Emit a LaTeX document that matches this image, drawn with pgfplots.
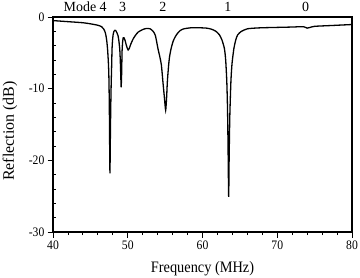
\documentclass[border=0pt]{standalone}
\usepackage{fontspec}
\setmainfont{Liberation Serif}
\usepackage{pgfplots}
\pgfplotsset{compat=1.18}
\begin{document}
\begin{tikzpicture}
\begin{axis}[
  scale only axis,
  width=299bp, height=215bp,
  xmin=40, xmax=80, ymin=-30, ymax=0,
  xtick={40,50,60,70,80}, ytick={-30,-20,-10,0},
  minor x tick num=4, minor y tick num=4,
  xtick pos=bottom, ytick pos=left,
  tick align=outside,
  major tick length=5.5bp, minor tick length=3bp,
  minor y tick style={xshift=3bp},
  axis line style={line width=1.1bp},
  every tick/.style={line width=0.9bp, black},
  /pgf/number format/assume math mode=true,
  tick label style={font=\fontsize{13}{14}\selectfont, xscale=0.9},
  xlabel={Frequency (MHz)},
  ylabel={Reflection (dB)},
  xlabel style={font=\fontsize{16}{18}\selectfont, xscale=0.9, at={(axis description cs:0.5,0)}, anchor=base, yshift=-40bp},
  ylabel style={font=\fontsize{16}{18}\selectfont, at={(axis description cs:-0.144,0.47)}, anchor=center},
  clip=false,
]
\addplot[black, line width=1.3bp, smooth, tension=0.4] coordinates {
(40,-0.5) (42,-0.65) (44,-0.8) (45,-0.95) (46,-1.15) (46.5,-1.35) (46.8,-1.7)
(47.0,-2.2) (47.1,-2.7) (47.2,-3.4) (47.3,-4.5) (47.4,-6.2) (47.47,-8.1)
(47.53,-12) (47.58,-18) (47.62,-21.8) (47.66,-18) (47.72,-13) (47.78,-9.5)
(47.83,-7.5) (47.9,-4.4) (47.97,-3.2) (48.04,-2.5) (48.15,-2.0) (48.3,-1.85)
(48.4,-1.9) (48.55,-2.2) (48.7,-2.6) (48.82,-3.4) (48.93,-4.5) (49.0,-6.0)
(49.07,-8.3) (49.12,-9.8) (49.18,-8.0) (49.24,-4.8) (49.32,-3.4) (49.4,-2.9)
(49.5,-2.9) (49.65,-3.3) (49.8,-3.9) (49.95,-4.4) (50.05,-4.6) (50.2,-4.4)
(50.4,-3.8) (50.7,-3.1) (51.0,-2.6) (51.4,-2.1) (52.0,-1.75) (52.5,-1.6)
(53.0,-1.65) (53.4,-2.0) (53.7,-2.6) (54.04,-4.4) (54.3,-5.6) (54.5,-6.7)
(54.7,-9.0) (54.9,-11.2) (55.07,-13.0) (55.2,-11.2) (55.3,-9.0) (55.47,-6.7)
(55.6,-5.5) (55.8,-4.4) (56.1,-3.3) (56.5,-2.5) (57.0,-1.9) (57.5,-1.65)
(58.5,-1.5) (59.5,-1.5) (60.5,-1.55) (61.2,-1.7) (61.8,-2.0) (62.27,-2.5)
(62.6,-3.2) (62.93,-4.4) (63.1,-6.0) (63.25,-9.0) (63.35,-13) (63.42,-18.3)
(63.5,-25.1) (63.56,-20) (63.65,-14) (63.8,-9.0) (63.95,-6.5) (64.2,-4.4)
(64.45,-3.2) (64.7,-2.5) (65.2,-2.0) (66.0,-1.65) (67,-1.55) (68,-1.5)
(70,-1.45) (72,-1.4) (73.5,-1.35) (74.0,-1.55) (74.4,-1.45) (75,-1.3)
(77,-1.2) (80,-1.05)
};
\node[font=\fontsize{14}{16}\selectfont, anchor=base east, yshift=5.5bp] at (axis cs:47.65,0) {Mode 4};
\node[font=\fontsize{14}{16}\selectfont, anchor=base, yshift=5.5bp] at (axis cs:49.3,0) {3};
\node[font=\fontsize{14}{16}\selectfont, anchor=base, yshift=5.5bp] at (axis cs:54.7,0) {2};
\node[font=\fontsize{14}{16}\selectfont, anchor=base, yshift=5.5bp] at (axis cs:63.4,0) {1};
\node[font=\fontsize{14}{16}\selectfont, anchor=base, yshift=5.5bp] at (axis cs:73.8,0) {0};
\end{axis}
\pgfresetboundingbox
\path[use as bounding box] ([xshift=-53bp,yshift=-45bp]current axis.south west) rectangle ([xshift=8bp,yshift=17bp]current axis.north east);
\end{tikzpicture}
\end{document}
